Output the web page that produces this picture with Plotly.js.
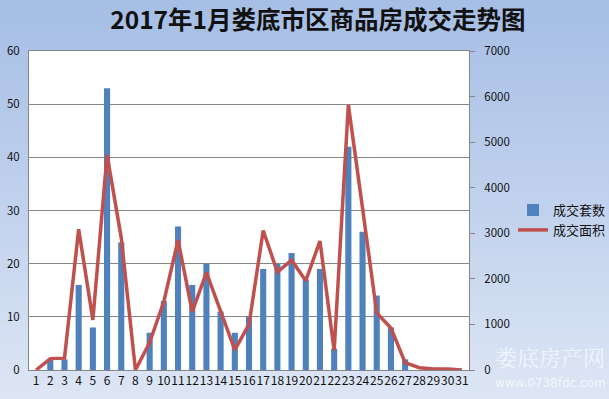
<!DOCTYPE html>
<html>
<head>
<meta charset="utf-8">
<script src="https://cdn.plot.ly/plotly-3.0.1.min.js"></script>
<style>
html,body{margin:0;padding:0;}
#chart{width:609px;height:399px;background:linear-gradient(to bottom,#a6bee5 0%,#c3d3ee 55%,#dde6f4 100%);}
</style>
</head>
<body>
<div id="chart"></div>
<script>
var days = ["1","2","3","4","5","6","7","8","9","10","11","12","13","14","15","16","17","18","19","20","21","22","23","24","25","26","27","28","29","30","31"];
var units = [0,2,2,16,8,53,24,0,7,13,27,16,20,11,7,10,19,20,22,17,19,4,42,26,14,8,2,0,0,0,0];
var area = [0,250,260,3090,1100,4720,2900,0,600,1500,2850,1280,2140,1280,440,1000,3060,2150,2410,1960,2830,430,5820,3550,1250,920,160,50,20,20,0];

var trace1 = {
  x: days, y: units, type: 'bar', name: '成交套数',
  marker: {color: '#4f81bd'}, yaxis: 'y'
};
var trace2 = {
  x: days, y: area, type: 'scatter', mode: 'lines', name: '成交面积',
  line: {color: '#c0504d', width: 3.5}, yaxis: 'y2'
};

var layout = {
  width: 609, height: 399,
  paper_bgcolor: 'rgba(0,0,0,0)',
  plot_bgcolor: '#ffffff',
  margin: {l: 29, r: 140, t: 51, b: 29, autoexpand: false},
  title: {
    text: '<b>2017年1月娄底市区商品房成交走势图</b>',
    font: {family: '"Noto Sans CJK SC", "Noto Sans", sans-serif', size: 24.5, color: '#111111'},
    x: 0.522, xanchor: 'center', y: 0.95, yanchor: 'middle'
  },
  font: {family: '"Noto Sans CJK SC", "DejaVu Sans", sans-serif', size: 11, color: '#222222'},
  bargap: 0.57,
  showlegend: true,
  legend: {
    x: 1.1, xanchor: 'left', y: 0.47, yanchor: 'middle',
    bgcolor: 'rgba(0,0,0,0)', itemwidth: 30,
    font: {size: 13, color: '#111111'}
  },
  xaxis: {
    type: 'category', tickmode: 'linear', dtick: 1, tickangle: 0, showgrid: false,
    showline: true, linecolor: '#868686', linewidth: 1, mirror: true,
    ticks: '', tickfont: {size: 12, color: '#111111'}
  },
  yaxis: {
    range: [0, 60], dtick: 10, showgrid: true, gridcolor: '#868686', gridwidth: 1,
    showline: true, linecolor: '#868686', zeroline: false,
    ticks: '', tickfont: {size: 11.5, color: '#111111'}, ticklabelstandoff: 6
  },
  yaxis2: {
    range: [0, 7000], dtick: 1000, overlaying: 'y', side: 'right', showgrid: false,
    showline: true, linecolor: '#868686', zeroline: false,
    ticks: 'outside', ticklen: 5, tickcolor: '#868686', ticklabelstandoff: 7,
    tickfont: {size: 11.5, color: '#111111'}
  },
  annotations: [
    {xref: 'paper', yref: 'paper', x: 1.185, y: 0.043, xanchor: 'center', yanchor: 'middle',
     text: '娄底房产网', showarrow: false,
     font: {family: '"Noto Serif CJK SC", "Noto Sans CJK SC", serif', size: 22, color: 'rgba(255,255,255,0.7)'}},
    {xref: 'paper', yref: 'paper', x: 1.185, y: -0.04, xanchor: 'center', yanchor: 'middle',
     text: 'www.0738fdc.com', showarrow: false,
     font: {family: '"DejaVu Sans", sans-serif', size: 12, color: 'rgba(255,255,255,0.7)'}}
  ]
};

Plotly.newPlot('chart', [trace1, trace2], layout, {displayModeBar: false, staticPlot: true});
</script>
</body>
</html>
